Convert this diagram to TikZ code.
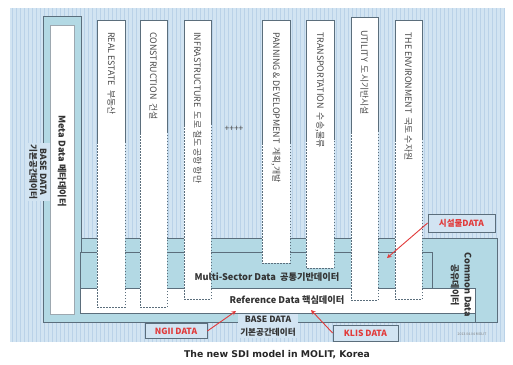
\documentclass[tikz,border=0pt]{standalone}
\usepackage{fontspec}
\setmainfont{Noto Sans CJK KR}
\newfontfamily\capfont{DejaVu Sans}
\usetikzlibrary{arrows.meta}
\definecolor{bgblue}{HTML}{D2E4F2}
\definecolor{gridblue}{HTML}{BAD2E8}
\definecolor{band}{HTML}{B3D9E4}
\definecolor{edge}{HTML}{5B6E7C}
\definecolor{txt}{HTML}{4A4A4A}
\definecolor{redtxt}{HTML}{E23A3A}
\tikzset{
  bandbox/.style={fill=band, draw=edge, line width=0.8pt},
  whitebox/.style={fill=white, draw=edge, line width=0.8pt},
  solidedge/.style={draw=edge, line width=0.9pt},
  dotedge/.style={draw=edge, line width=1pt, dash pattern=on 1.5pt off 1.5pt},
  coltext/.style={rotate=-90, anchor=west, font=\fontsize{8.9}{9}\selectfont, text=txt, inner sep=0pt},
  boldlabel/.style={font=\bfseries\fontsize{9.2}{10.5}\selectfont, text=black!80, inner sep=1pt, align=center},
  redbox/.style={draw=edge, fill=bgblue, line width=0.8pt, text=redtxt, font=\bfseries\fontsize{8.5}{9}\selectfont, inner sep=0pt},
  redarrow/.style={draw=redtxt, line width=0.9pt, -{Stealth[length=4.5pt,width=4.5pt]}},
}
\begin{document}
\begin{tikzpicture}[x=1pt,y=-1pt]
\useasboundingbox (0,0) rectangle (513,364);
\fill[white] (0,0) rectangle (513,364);
% grid background
\fill[bgblue] (10,8) rectangle (505,342);
\draw[gridblue, line width=0.3pt, step=4] (10,8) grid (505,342);

% common data box
\path[bandbox] (80,238) rectangle (497,322);
% base data L-shape
\path[bandbox] (43,16) -- (81,16) -- (81,313) -- (475,313) -- (475,322) -- (43,322) -- cycle;
% meta data white box
\draw[fill=white, draw=edge!60, line width=0.6pt] (50,25) rectangle (74,314);
% reference (white) band
\path[whitebox] (80,288) rectangle (475,313);
% multi-sector band
\path[bandbox] (80,252) rectangle (432,288);

% sector columns: x1, x2, top, transition, bottom
\foreach \xa/\xb/\ta/\tb/\bo in {97/125/20/142/307, 140/167/20/133/307, 184/211/20/125/299,
  262/290/20/143/263, 306/334/20/140/268, 351/378/17/132/300, 395/422/20/140/299}{
  \fill[white] (\xa,\ta) rectangle (\xb,\bo);
  \draw[solidedge] (\xa,\tb) -- (\xa,\ta) -- (\xb,\ta) -- (\xb,\tb);
  \draw[dotedge] (\xa,\tb) -- (\xa,\bo) -- (\xb,\bo) -- (\xb,\tb);
}

% column texts
\node[coltext] (realestate) at (111.5,32) {REAL ESTATE~~부동산};
\node[coltext] (construction) at (153.5,32) {CONSTRUCTION~~건설};
\node[coltext] (infra) at (197.5,32) {INFRASTRUCTURE~~도로 철도 공항 항만};
\node[coltext] (panning) at (276,32) {PANNING \& DEVELOPMENT~~계획,개발};
\node[coltext] (transport) at (320,32) {TRANSPORTATION~~수송,물류};
\node[coltext] (utility) at (364.5,30) {UTILITY~~도시기반시설};
\node[coltext] (environment) at (408.5,32) {THE ENVIRONMENT~~국토 수자원};
\node[font=\fontsize{8.5}{9}\selectfont, text=txt] (plus) at (234,129) {++++};

% main labels
\node[boldlabel, rotate=-90] (meta) at (62,161) {Meta Data 메타데이터};
\node[boldlabel, rotate=-90, fill=bgblue, inner ysep=3pt, font=\bfseries\fontsize{8.6}{10}\selectfont] (baseleft) at (38,172) {BASE DATA\\기본공간데이터};
\node[boldlabel] (multi) at (267,277) {Multi-Sector Data~~공통기반데이터};
\node[boldlabel] (reference) at (287,300) {Reference Data 핵심데이터};
\node[boldlabel, fill=bgblue, inner sep=2pt, font=\bfseries\fontsize{8.6}{13}\selectfont] (basebottom) at (268,326) {BASE DATA\\기본공간데이터};
\node[boldlabel, rotate=-90, font=\bfseries\fontsize{9}{13}\selectfont] (common) at (461,285) {Common Data\\공유데이터};

% red-labelled boxes and arrows
\node[redbox, minimum width=62pt, minimum height=15pt] (ngii) at (176,331) {NGII DATA};
\node[redbox, minimum width=65pt, minimum height=16pt] (klis) at (365.5,333) {KLIS DATA};
\node[redbox, minimum width=67pt, minimum height=18pt] (facility) at (461.5,223) {시설물DATA};
\coordinate (ngiitip) at (236,311);
\coordinate (klistip) at (311,310);
\coordinate (facilitytip) at (387,258);
\draw[redarrow] (ngii.east) -- (ngiitip);
\draw[redarrow] (klis.west) -- (klistip);
\draw[redarrow] (facility.west) -- (facilitytip);

% small credit text
\node[font=\fontsize{3.5}{4}\selectfont, text=gray] (credit) at (472,334) {2013.04.04 MOLIT};

% caption
\node[font=\capfont\bfseries\fontsize{9.3}{11}\selectfont, text=black!85] (caption) at (277,355) {The new SDI model in MOLIT, Korea};
\end{tikzpicture}
\end{document}
